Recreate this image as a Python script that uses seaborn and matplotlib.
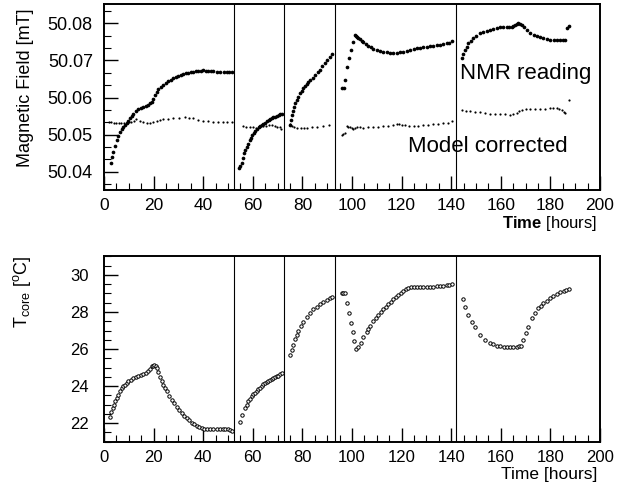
import numpy as np
import pandas as pd
import matplotlib
matplotlib.use('Agg')
import matplotlib.pyplot as plt
import seaborn as sns
from matplotlib.ticker import MultipleLocator, FixedLocator

# NMR reading [mT] vs time [hours]
nmr_t = [2.8, 3.3, 3.8, 4.4, 5.1, 5.7, 6.4, 7.1, 7.8, 8.4, 9.1, 9.7, 10.4, 11.1, 11.8, 12.8, 13.8, 14.8,
         15.9, 16.9, 17.9, 18.6, 19.2, 19.9, 20.5, 21.2, 21.9, 22.9, 23.9, 24.9, 25.9, 26.9, 27.9, 28.9,
         29.9, 30.9, 31.9, 33.0, 34.0, 35.0, 36.0, 37.0, 38.0, 39.0, 40.0, 41.0, 42.0, 43.0, 44.1, 45.4,
         46.8, 48.2, 49.5, 50.5, 51.5,
         54.6, 55.0, 55.5, 56.0, 56.5, 57.0, 57.6, 58.1, 58.7, 59.1, 59.6, 60.3, 61.0, 61.6, 62.3, 63.0,
         63.7, 64.3, 65.0, 65.7, 66.4, 67.0, 67.7, 68.3, 69.0, 69.7, 70.4, 71.0, 71.7,
         75.0, 75.4, 75.7, 76.2, 76.6, 77.2, 77.7, 78.3, 79.0, 79.7, 80.4, 81.0, 81.7, 82.4, 83.1, 84.1,
         85.1, 86.1, 87.1, 88.1, 89.1, 90.1, 91.1, 91.8,
         95.8, 96.9, 97.2, 98.1, 98.8, 99.6, 100.3, 101.2, 101.6, 101.9, 102.5, 103.2, 103.9, 104.6, 105.6,
         106.6, 107.6, 108.6, 110.0, 111.3, 112.6, 114.0, 115.3, 116.7, 118.0, 119.4, 120.7, 122.1, 123.4,
         124.8, 126.1, 127.4, 128.8, 130.1, 131.5, 132.8, 134.1, 135.5, 136.8, 138.2, 139.2, 140.2,
         144.2, 144.9, 145.6, 146.2, 146.9, 147.9, 148.9, 150.2, 151.6, 153.0, 154.3, 155.6, 157.0, 158.3,
         159.7, 161.0, 162.4, 163.4, 164.4, 165.1, 165.8, 166.5, 167.1, 167.8, 168.5, 169.5, 170.5, 171.8,
         173.2, 174.5, 175.9, 177.2, 178.6, 180.0, 181.3, 182.6, 184.0, 185.0, 186.0, 186.7, 187.6]
nmr_b = [50.0423, 50.0440, 50.0454, 50.0470, 50.0485, 50.0497, 50.0508, 50.0515, 50.0521, 50.0527, 50.0532,
         50.0538, 50.0544, 50.0551, 50.0557, 50.0563, 50.0568, 50.0571, 50.0574, 50.0577, 50.0580, 50.0584,
         50.0589, 50.0597, 50.0607, 50.0615, 50.0622, 50.0628, 50.0634, 50.0639, 50.0644, 50.0648, 50.0652,
         50.0655, 50.0658, 50.0661, 50.0663, 50.0665, 50.0667, 50.0668, 50.0670, 50.0671, 50.0671, 50.0672,
         50.0673, 50.0672, 50.0671, 50.0671, 50.0671, 50.0670, 50.0670, 50.0670, 50.0670, 50.0670, 50.0670,
         50.0409, 50.0416, 50.0424, 50.0437, 50.0450, 50.0458, 50.0467, 50.0476, 50.0485, 50.0492, 50.0499,
         50.0505, 50.0510, 50.0516, 50.0521, 50.0524, 50.0526, 50.0529, 50.0532, 50.0536, 50.0539, 50.0543,
         50.0546, 50.0547, 50.0548, 50.0551, 50.0553, 50.0555, 50.0556,
         50.0526, 50.0540, 50.0553, 50.0564, 50.0575, 50.0584, 50.0593, 50.0602, 50.0611, 50.0618, 50.0625,
         50.0631, 50.0636, 50.0642, 50.0647, 50.0654, 50.0661, 50.0668, 50.0674, 50.0684, 50.0693, 50.0702,
         50.0710, 50.0716,
         50.0626, 50.0627, 50.0647, 50.0683, 50.0706, 50.0728, 50.0750, 50.0768, 50.0766, 50.0764, 50.0760,
         50.0757, 50.0753, 50.0749, 50.0744, 50.0739, 50.0735, 50.0731, 50.0728, 50.0725, 50.0723, 50.0722,
         50.0720, 50.0719, 50.0720, 50.0722, 50.0724, 50.0726, 50.0728, 50.0731, 50.0733, 50.0734, 50.0736,
         50.0737, 50.0738, 50.0740, 50.0741, 50.0742, 50.0744, 50.0746, 50.0748, 50.0751,
         50.0706, 50.0718, 50.0728, 50.0737, 50.0746, 50.0753, 50.0760, 50.0767, 50.0773, 50.0777, 50.0780,
         50.0783, 50.0785, 50.0787, 50.0789, 50.0790, 50.0791, 50.0790, 50.0789, 50.0792, 50.0795, 50.0798,
         50.0800, 50.0798, 50.0795, 50.0789, 50.0782, 50.0775, 50.0768, 50.0765, 50.0762, 50.0760, 50.0758,
         50.0756, 50.0755, 50.0755, 50.0755, 50.0755, 50.0755, 50.0787, 50.0793]

# model corrected field [mT]
cor_t = [2.0, 3.0, 4.0, 5.0, 6.0, 7.0, 8.0, 9.1, 10.0, 11.0, 12.0, 13.1, 14.5, 15.9, 17.2, 18.5, 19.8,
         21.2, 22.5, 23.9, 25.9, 27.9, 30.2, 32.6, 34.3, 36.0, 38.0, 40.0, 42.0, 44.1, 46.0, 48.0, 49.5, 51.5,
         56.0, 57.3, 58.7, 60.0, 61.4, 62.7, 64.1, 65.4, 66.7, 67.8, 68.8, 69.8, 70.8, 71.4,
         75.0, 75.8, 76.6, 78.0, 79.3, 80.6, 82.0, 84.0, 86.0, 88.3, 90.7,
         95.8, 96.5, 97.2, 97.9, 98.5, 99.2, 99.9, 100.6, 101.2, 101.9, 103.2, 104.6, 106.6, 108.6, 110.6,
         112.6, 114.6, 116.7, 118.0, 119.1, 120.2, 121.4, 123.1, 124.8, 126.8, 128.8, 130.8, 132.8, 134.8,
         136.8, 138.9, 140.2,
         144.2, 145.9, 147.6, 149.6, 151.6, 153.6, 155.6, 157.6, 159.7, 161.7, 163.7, 165.0, 166.4, 167.4,
         168.5, 170.1, 171.8, 173.8, 175.9, 177.9, 179.9, 181.2, 182.6, 183.6, 184.6, 185.3, 186.0, 187.6]
cor_b = [50.0533, 50.0533, 50.0532, 50.0532, 50.0531, 50.0531, 50.0531, 50.0531, 50.0533, 50.0535, 50.0538,
         50.0541, 50.0537, 50.0534, 50.0532, 50.0532, 50.0533, 50.0537, 50.0540, 50.0542, 50.0543, 50.0544,
         50.0545, 50.0547, 50.0546, 50.0544, 50.0540, 50.0537, 50.0536, 50.0535, 50.0534, 50.0534, 50.0534,
         50.0534,
         50.0523, 50.0522, 50.0521, 50.0520, 50.0519, 50.0521, 50.0523, 50.0524, 50.0525, 50.0525, 50.0524,
         50.0522, 50.0520, 50.0515,
         50.0529, 50.0524, 50.0521, 50.0519, 50.0517, 50.0517, 50.0518, 50.0520, 50.0521, 50.0523, 50.0525,
         50.0499, 50.0501, 50.0504, 50.0523, 50.0522, 50.0520, 50.0517, 50.0514, 50.0518, 50.0521, 50.0520,
         50.0519, 50.0520, 50.0521, 50.0522, 50.0523, 50.0524, 50.0526, 50.0528, 50.0530, 50.0527, 50.0525,
         50.0524, 50.0523, 50.0524, 50.0526, 50.0527, 50.0529, 50.0530, 50.0532, 50.0532, 50.0537,
         50.0566, 50.0565, 50.0564, 50.0562, 50.0560, 50.0558, 50.0557, 50.0557, 50.0556, 50.0555, 50.0553,
         50.0556, 50.0559, 50.0563, 50.0566, 50.0568, 50.0569, 50.0569, 50.0569, 50.0570, 50.0571, 50.0572,
         50.0573, 50.0570, 50.0566, 50.0562, 50.0559, 50.0593]

# magnet core temperature [C]
tc_t = [2.4, 3.0, 3.5, 4.0, 4.4, 5.1, 5.8, 6.4, 7.1, 7.8, 8.5, 9.1, 9.8, 10.8, 11.8, 12.8, 13.8, 14.8,
        15.9, 16.9, 17.9, 18.5, 19.2, 19.8, 20.3, 20.8, 21.2, 21.9, 22.6, 23.2, 23.9, 24.6, 25.3, 26.3,
        27.3, 28.3, 29.3, 30.3, 31.3, 32.3, 33.3, 34.4, 35.4, 36.4, 37.4, 38.4, 39.4, 40.4, 41.4, 42.8,
        44.1, 45.4, 46.8, 47.8, 48.8, 49.8, 50.8, 51.7,
        54.8, 55.8, 56.9, 57.5, 58.2, 58.8, 59.5, 60.2, 60.9, 61.5, 62.2, 62.9, 63.6, 64.2, 64.9, 65.6,
        66.3, 66.9, 67.6, 68.3, 69.0, 69.6, 70.3, 71.0, 71.6,
        75.0, 75.7, 76.3, 77.0, 77.7, 78.4, 79.3, 80.4, 81.7, 83.1, 84.4, 85.8, 87.1, 88.4, 89.8, 91.1, 91.8,
        95.8, 96.5, 97.2, 98.1, 98.8, 99.6, 100.3, 100.9, 101.6, 102.6, 103.5, 104.6, 105.9, 106.6, 107.3,
        108.6, 109.6, 110.6, 111.6, 112.6, 113.6, 114.7, 115.7, 116.7, 117.7, 118.7, 119.7, 120.7, 121.7,
        122.7, 123.7, 124.8, 126.1, 127.4, 128.8, 130.1, 131.5, 132.8, 134.1, 135.5, 136.8, 138.2, 139.2,
        140.2,
        144.6, 145.6, 146.9, 148.3, 149.6, 151.6, 153.7, 155.6, 157.0, 158.4, 159.7, 161.1, 162.4, 163.7,
        165.0, 166.4, 167.2, 168.1, 169.1, 170.2, 171.1, 172.5, 173.8, 175.1, 176.1, 177.2, 178.5, 179.9,
        181.2, 182.6, 184.0, 185.3, 186.3, 187.3]
tc_v = [22.36, 22.60, 22.81, 23.00, 23.17, 23.36, 23.53, 23.72, 23.89, 23.99, 24.07, 24.16, 24.25, 24.35,
        24.43, 24.50, 24.55, 24.61, 24.66, 24.72, 24.79, 24.92, 25.06, 25.11, 25.15, 25.10, 24.97, 24.74,
        24.51, 24.29, 24.07, 23.89, 23.71, 23.48, 23.26, 23.08, 22.90, 22.72, 22.54, 22.40, 22.27, 22.15,
        22.03, 21.94, 21.86, 21.79, 21.73, 21.70, 21.69, 21.69, 21.69, 21.69, 21.69, 21.69, 21.69, 21.67,
        21.64, 21.60,
        22.09, 22.45, 22.81, 23.00, 23.17, 23.31, 23.44, 23.55, 23.65, 23.74, 23.83, 23.92, 24.01, 24.09,
        24.16, 24.22, 24.28, 24.34, 24.39, 24.44, 24.48, 24.52, 24.57, 24.63, 24.70,
        25.69, 25.95, 26.22, 26.53, 26.76, 26.99, 27.25, 27.48, 27.75, 27.97, 28.15, 28.29, 28.42, 28.53,
        28.65, 28.78, 28.83,
        29.01, 29.03, 29.05, 28.51, 27.97, 27.43, 26.94, 26.46, 26.01, 26.13, 26.35, 26.64, 26.94, 27.10,
        27.25, 27.52, 27.68, 27.84, 28.00, 28.15, 28.29, 28.42, 28.56, 28.69, 28.81, 28.92, 29.04, 29.14,
        29.22, 29.28, 29.33, 29.37, 29.37, 29.37, 29.37, 29.37, 29.37, 29.37, 29.39, 29.41, 29.43, 29.46,
        29.48, 29.51,
        28.69, 28.29, 27.84, 27.48, 27.18, 26.76, 26.49, 26.32, 26.25, 26.19, 26.16, 26.13, 26.11, 26.10,
        26.11, 26.13, 26.16, 26.19, 26.49, 26.85, 27.21, 27.66, 27.93, 28.20, 28.34, 28.47, 28.61, 28.74,
        28.86, 28.96, 29.06, 29.14, 29.20, 29.25]

# run boundaries [hours]
breaks = [52.3, 72.6, 93.1, 141.9]

sns.set_style('ticks')
plt.rcParams['font.family'] = ['Liberation Sans', 'DejaVu Sans']
plt.rcParams['mathtext.fontset'] = 'custom'
plt.rcParams['mathtext.rm'] = 'Liberation Sans'
plt.rcParams['mathtext.bf'] = 'Liberation Sans:bold'
for k in ('text.color', 'axes.labelcolor', 'xtick.color', 'ytick.color', 'axes.edgecolor'):
    plt.rcParams[k] = 'black'

fig = plt.figure(figsize=(6.24, 4.87), dpi=100)
ax1 = fig.add_axes([104 / 624, 1 - 190 / 487, 496 / 624, 186 / 487])
ax2 = fig.add_axes([104 / 624, 1 - 441.7 / 487, 496 / 624, 186 / 487])

sns.scatterplot(x=nmr_t, y=nmr_b, ax=ax1, color='black', s=7, linewidth=0, marker='o')
sns.scatterplot(x=cor_t, y=cor_b, ax=ax1, color='black', s=2.5, linewidth=0, marker='o')
sns.scatterplot(x=tc_t, y=tc_v, ax=ax2, facecolor='white', edgecolor='black', s=6, linewidth=0.7, marker='o')

for ax in (ax1, ax2):
    for b in breaks:
        ax.axvline(b, color='black', lw=0.8)
    ax.set_xlim(0, 200)
    ax.xaxis.set_major_locator(MultipleLocator(20))
    ax.xaxis.set_minor_locator(MultipleLocator(5))
    ax.tick_params(which='both', direction='in', top=False, right=False, colors='black')
    ax.tick_params(which='major', length=10, width=1)
    ax.tick_params(which='minor', length=5, width=0.8)
    for s in ax.spines.values():
        s.set_linewidth(1.4)
        s.set_color('black')

ax1.set_ylim(50.0351, 50.0852)
ax1.set_yticks([50.04, 50.05, 50.06, 50.07, 50.08])
ax1.set_yticklabels(['50.04', '50.05', '50.06', '50.07', '50.08'])
ax1.yaxis.set_minor_locator(FixedLocator(50.03 + np.arange(0, 19) * 0.01 / 3))
ax1.tick_params(axis='y', labelsize=13, pad=8)
ax1.tick_params(axis='x', labelsize=12.5, pad=6)

ax2.set_ylim(21.0, 31.04)
ax2.yaxis.set_major_locator(MultipleLocator(2))
ax2.yaxis.set_minor_locator(MultipleLocator(0.5))
ax2.tick_params(axis='y', labelsize=12, pad=11)
ax2.tick_params(axis='x', labelsize=12, pad=6)

ax1.text(143.5, 50.0664, 'NMR reading', fontsize=16, va='center', ha='left')
ax1.text(122.5, 50.0467, 'Model corrected', fontsize=16, va='center', ha='left')

fig.text(25 / 624, 1 - 88 / 487, 'Magnetic Field [mT]', rotation=90, fontsize=13,
         ha='center', va='center')
fig.text(22 / 624, 1 - 292 / 487, r'T$_{\rm core}$ [$^{\rm o}$C]', rotation=90, fontsize=13,
         ha='center', va='center')

fig.text(597 / 624, 1 - 224 / 487, r'$\mathbf{Time}$ [hours]', fontsize=12, ha='right', va='center')
fig.text(597 / 624, 1 - 474 / 487, 'Time [hours]', fontsize=12.5, ha='right', va='center')

fig.savefig('out.png', dpi=100)
